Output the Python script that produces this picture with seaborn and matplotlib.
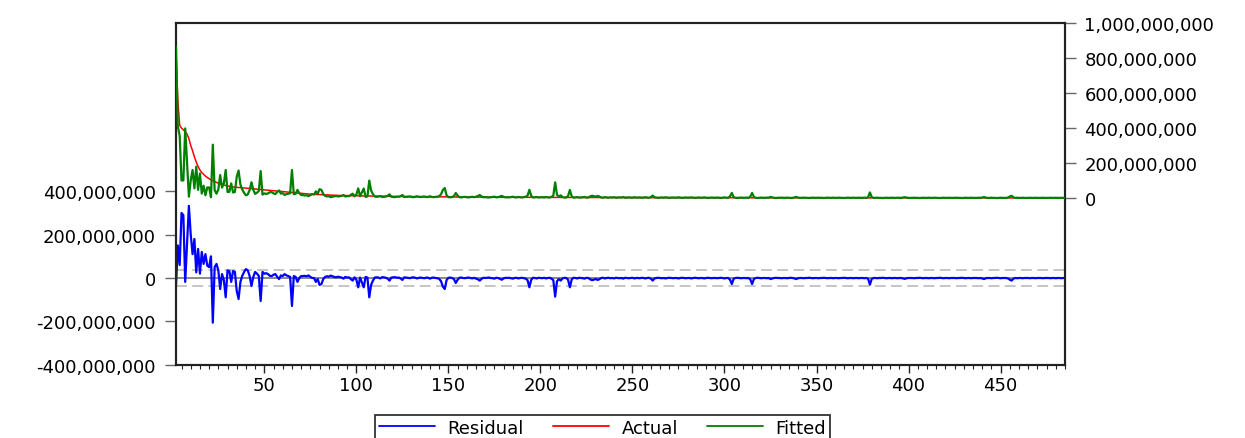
import numpy as np
import pandas as pd
import matplotlib
matplotlib.use("Agg")
import matplotlib.pyplot as plt
import seaborn as sns
from matplotlib.ticker import FuncFormatter, MultipleLocator, FixedLocator
from matplotlib.lines import Line2D

# ---------------- data (values in millions, observations 2..485) ----------------
first_obs = 2

actual_m = [
    830, 560, 415, 400, 390, 380, 365, 340, 300, 270,
    235, 205, 180, 160, 145, 135, 125, 117, 110, 104,
    99, 94, 89, 84, 80, 77, 74, 71, 69, 67,
    65, 63, 62, 61, 60, 59, 58, 57, 56, 55,
    54, 53, 52, 51, 50, 49, 48, 47, 46, 45,
    44, 43, 42, 41, 40, 39, 38, 37, 36, 35,
    34, 33, 32, 31, 30, 29, 28, 27, 26, 25,
    24, 23, 22, 21.5, 21, 20, 19.5, 19, 18.5, 18,
    17.5, 17, 16.5, 16, 15.5, 15, 14.8, 14.5, 14.2, 14,
    13.8, 13.5, 13.2, 13, 12.8, 12.5, 12.3, 12, 11.8, 11.6,
    11.4, 11.2, 11, 10.8, 10.6, 10.4, 10.2, 10, 9.8, 9.6,
    9.4, 9.3, 9.2, 9.1, 9.0, 8.9, 8.8, 8.7, 8.6, 8.5,
    8.4, 8.3, 8.2, 8.1, 8.0, 7.9, 7.8, 7.7, 7.6, 7.5,
    7.4, 7.3, 7.2, 7.1, 7.0, 6.9, 6.8, 6.7, 6.6, 6.5,
    6.4, 6.3, 6.2, 6.1, 6.0, 5.9, 5.8, 5.7, 5.6, 5.5,
    5.4, 5.4, 5.3, 5.3, 5.2, 5.2, 5.1, 5.1, 5.0, 5.0,
    4.9, 4.9, 4.8, 4.8, 4.7, 4.7, 4.6, 4.6, 4.5, 4.5,
    4.4, 4.4, 4.3, 4.3, 4.2, 4.2, 4.1, 4.1, 4.0, 4.0,
    3.9, 3.9, 3.9, 3.8, 3.8, 3.8, 3.7, 3.7, 3.7, 3.6,
    3.6, 3.6, 3.5, 3.5, 3.5, 3.4, 3.4, 3.4, 3.3, 3.3,
    3.3, 3.2, 3.2, 3.2, 3.1, 3.1, 3.1, 3.0, 3.0, 3.0,
    2.9, 2.9, 2.9, 2.9, 2.8, 2.8, 2.8, 2.8, 2.7, 2.7,
    2.7, 2.7, 2.6, 2.6, 2.6, 2.6, 2.5, 2.5, 2.5, 2.5,
    2.4, 2.4, 2.4, 2.4, 2.3, 2.3, 2.3, 2.3, 2.2, 2.2,
    2.2, 2.2, 2.1, 2.1, 2.1, 2.1, 2.0, 2.0, 2.0, 2.0,
    1.95, 1.95, 1.9, 1.9, 1.9, 1.85, 1.85, 1.8, 1.8, 1.8,
    1.75, 1.75, 1.7, 1.7, 1.7, 1.65, 1.65, 1.6, 1.6, 1.6,
    1.55, 1.55, 1.5, 1.5, 1.5, 1.45, 1.45, 1.4, 1.4, 1.4,
    1.38, 1.36, 1.34, 1.32, 1.3, 1.28, 1.26, 1.24, 1.22, 1.2,
    1.19, 1.18, 1.17, 1.16, 1.15, 1.14, 1.13, 1.12, 1.11, 1.1,
    1.09, 1.08, 1.07, 1.06, 1.05, 1.04, 1.03, 1.02, 1.01, 1.0,
    0.99, 0.98, 0.97, 0.96, 0.95, 0.94, 0.93, 0.92, 0.91, 0.9,
    0.89, 0.88, 0.88, 0.87, 0.86, 0.86, 0.85, 0.84, 0.84, 0.83,
    0.82, 0.82, 0.81, 0.8, 0.8, 0.79, 0.78, 0.78, 0.77, 0.76,
    0.76, 0.75, 0.74, 0.74, 0.73, 0.72, 0.72, 0.71, 0.7, 0.7,
    0.69, 0.68, 0.68, 0.67, 0.66, 0.66, 0.65, 0.64, 0.64, 0.63,
    0.62, 0.62, 0.61, 0.6, 0.6, 0.59, 0.58, 0.58, 0.57, 0.56,
    0.56, 0.55, 0.55, 0.54, 0.54, 0.53, 0.53, 0.52, 0.52, 0.51,
    0.51, 0.5, 0.5, 0.49, 0.49, 0.48, 0.48, 0.47, 0.47, 0.46,
    0.46, 0.45, 0.45, 0.44, 0.44, 0.43, 0.43, 0.42, 0.42, 0.41,
    0.41, 0.41, 0.4, 0.4, 0.4, 0.39, 0.39, 0.39, 0.38, 0.38,
    0.38, 0.37, 0.37, 0.37, 0.36, 0.36, 0.36, 0.35, 0.35, 0.35,
    0.34, 0.34, 0.34, 0.33, 0.33, 0.33, 0.32, 0.32, 0.32, 0.31,
    0.31, 0.31, 0.3, 0.3, 0.3, 0.29, 0.29, 0.29, 0.28, 0.28,
    0.28, 0.27, 0.27, 0.27, 0.26, 0.26, 0.26, 0.25, 0.25, 0.25,
    0.24, 0.24, 0.24, 0.23, 0.23, 0.23, 0.22, 0.22, 0.22, 0.21,
    0.21, 0.21, 0.2, 0.2, 0.2, 0.19, 0.19, 0.19, 0.18, 0.18,
    0.18, 0.17, 0.17, 0.17, 0.16, 0.16, 0.16, 0.15, 0.15, 0.15,
    0.14, 0.14, 0.13, 0.12,
]

residual_m = [
    -35, 150, 60, 300, 290, -18, 160, 333, 200, 110,
    180, 26, 134, 20, 120, 65, 110, 57, 50, 100,
    -206, 50, 65, 35, -51, 18, -10, -89, 35, 32,
    -18, 32, 28, -60, -97, -18, 10, 28, 41, 35,
    9, -37, 5, 28, 20, 9, -106, 28, 20, 22,
    18, 10, 9, 15, 18, 5, -5, 12, 9, 18,
    12, 9, 5, -129, 9, 5, -18, 0, 9, 9,
    10, 8, 12, 5, 0, 0, -18, -5, -32, -28,
    -5, 5, 8, 6, 11, 8, 5, 3, 6, 4,
    2, -3, 5, 2, 3, -5, -12, 3, -8, -43,
    2, -20, -43, 5, 2, -89, -32, -12, 2, 3,
    2, -2, 4, 3, 1, -3, -12, 2, 3, 4,
    1, 2, -2, -9, 3, 2, 1, -1, 2, 3,
    1, -2, 1, 2, 0, -1, 2, 1, -3, 1,
    2, 0, -1, -4, -15, -40, -51, -10, 1, 2,
    0, -5, -23, -8, 1, 2, 0, -1, 1, 2,
    0, -2, 1, -3, -6, -12, -4, 1, 0, 1,
    2, 0, -1, -3, 1, 0, -4, -8, -2, 1,
    0, 1, -1, -3, 0, 1, -2, 0, 1, -1,
    -3, -10, -43, -8, 1, 0, -2, 1, 0, -1,
    1, -2, 0, 1, -3, -10, -86, -15, -5, -12,
    -2, 1, 0, -8, -43, -6, 1, 0, -2, 1,
    0, -1, -3, 1, 0, -6, -10, -8, -4, -9,
    -6, 0, 1, -2, 0, 1, -1, 0, -2, 1,
    0, -1, 0, -3, 1, 0, -1, 0, 1, -2,
    0, 0, -1, 1, 0, -2, 0, 1, -3, -12,
    -2, 0, 1, 0, -1, 0, -2, 0, 1, 0,
    -1, 0, 0, -2, 0, 1, 0, -1, 0, 0,
    -2, 0, 1, 0, -1, 0, 0, -2, 0, 1,
    0, -1, 0, 0, -1, 0, 1, 0, -2, 0,
    0, -8, -28, -3, 0, 1, 0, -1, 0, 0,
    -1, 0, -6, -28, -4, 0, 1, 0, -1, 0,
    0, -1, 0, -5, -2, 0, 1, 0, 0, -1,
    0, 0, -1, 0, 1, 0, -2, -5, -1, 0,
    0, -1, 0, 0, 1, 0, -1, 0, 0, -1,
    0, 0, 1, 0, -1, 0, 0, -1, 0, 0,
    -1, 0, 0, 1, 0, -1, 0, 0, -1, 0,
    0, -1, 0, 0, -1, 0, -3, -31, -4, 0,
    0, -1, 0, 0, 1, 0, -1, 0, 0, -1,
    0, 0, -1, 0, 0, -2, -4, -1, 0, 0,
    0, -1, 0, 0, 1, 0, -1, 0, 0, -1,
    0, 0, -1, 0, 0, 1, 0, -1, 0, 0,
    -1, 0, 0, 0, -1, 0, 0, 1, 0, -1,
    0, 0, -1, 0, 0, 0, -1, 0, -2, -5,
    -1, 0, 0, -1, 0, 0, 1, 0, -1, 0,
    0, 0, -2, -8, -12, -3, 0, -1, 0, 0,
    -1, 0, 0, 0, -1, 0, 0, -1, 0, 0,
    0, -1, 0, 0, 0, -1, 0, 0, -1, 0,
    0, -1, 0, 0,
]

residual_se_m = 37          # +/- 1 S.E. band of the residuals
series_names = ["Residual", "Actual", "Fitted"]
series_colors = ["#0000ff", "#ff0000", "#008000"]
left_ticks = [-400e6, -200e6, 0, 200e6, 400e6]
right_ticks = [0, 200e6, 400e6, 600e6, 800e6, 1000e6]

if len(actual_m) != len(residual_m):
    raise ValueError(f"length mismatch {len(actual_m)} vs {len(residual_m)}")

obs = np.arange(first_obs, first_obs + len(actual_m))
df = pd.DataFrame({
    "obs": obs,
    "Actual": np.array(actual_m, dtype=float) * 1e6,
    "Residual": np.array(residual_m, dtype=float) * 1e6,
})
df["Fitted"] = df["Actual"] - df["Residual"]

# ---------------- styling ----------------
sns.set_theme(style="white")
plt.rcParams['font.family'] = ['DejaVu Sans']
plt.rcParams['text.color'] = 'black'
FS = 13

W, H = 1245, 439
fig = plt.figure(figsize=(W / 100, H / 100), dpi=100)
left_px, right_px, top_px, bottom_px = 176, 1065, 24.3, 365.7
ax = fig.add_axes([left_px / W, 1 - bottom_px / H,
                   (right_px - left_px) / W, (bottom_px - top_px) / H])
ax.set_facecolor("white")

# reference lines for the residual panel
ax.axhline(0, color="#8a8a8a", lw=1.4, zorder=1)
for s in (residual_se_m, -residual_se_m):
    ax.axhline(s * 1e6, color="#c0c0c0", lw=1.3, ls=(0, (6, 3)), zorder=1)

sns.lineplot(data=df, x="obs", y="Residual", ax=ax, color=series_colors[0],
             lw=1.6, legend=False, zorder=3)

ax2 = ax.twinx()
sns.lineplot(data=df, x="obs", y="Actual", ax=ax2, color=series_colors[1],
             lw=1.1, legend=False, zorder=2)
sns.lineplot(data=df, x="obs", y="Fitted", ax=ax2, color=series_colors[2],
             lw=1.6, legend=False, zorder=3)

ax.set_xlim(first_obs, obs[-1])
ax.set_ylim(-400e6, 1175e6)
ax2.set_ylim(-955e6, 1000e6)

fmt = FuncFormatter(lambda v, p: f"{int(round(v)):,}")
ax.yaxis.set_major_locator(FixedLocator(left_ticks))
ax.yaxis.set_major_formatter(fmt)
ax2.yaxis.set_major_locator(FixedLocator(right_ticks))
ax2.yaxis.set_major_formatter(fmt)
ax.xaxis.set_major_locator(MultipleLocator(50))
ax.xaxis.set_minor_locator(MultipleLocator(5))

ax.set_xlabel("")
ax.set_ylabel("")
ax2.set_ylabel("")

ax.tick_params(axis="y", which="major", left=True, right=False, direction="out",
               length=8, width=1, color="#666666", pad=6.5, labelsize=FS,
               labelcolor="black")
ax2.tick_params(axis="y", which="major", right=True, left=False, direction="out",
                length=8, width=1, color="#666666", pad=6, labelsize=FS,
                labelcolor="black")
ax.tick_params(axis="x", which="major", bottom=True, direction="out",
               length=5.5, width=1, color="#222222", pad=2.5, labelsize=FS,
               labelcolor="black")
ax.tick_params(axis="x", which="minor", bottom=True, direction="out",
               length=2.8, width=0.8, color="#222222")
ax2.tick_params(axis="x", which="both", bottom=False, top=False, labelbottom=False)

for a in (ax, ax2):
    for sp in a.spines.values():
        sp.set_color("#222222")
        sp.set_linewidth(1.5)
        sp.set_visible(True)
    a.grid(False)

# legend
handles = [Line2D([], [], color=c, lw=1.3) for c in series_colors]
leg = fig.legend(handles, series_names, loc="upper center", ncol=3,
                 bbox_to_anchor=(602.5 / W, 1 - 416 / H),
                 frameon=True, fancybox=False, framealpha=1, edgecolor="#333333",
                 fontsize=FS, handlelength=3.1, handletextpad=0.7,
                 columnspacing=1.6, borderpad=0.2, borderaxespad=0.0)
leg.get_frame().set_linewidth(1.3)
for t in leg.get_texts():
    t.set_color("black")

fig.savefig("out.png", dpi=100)
